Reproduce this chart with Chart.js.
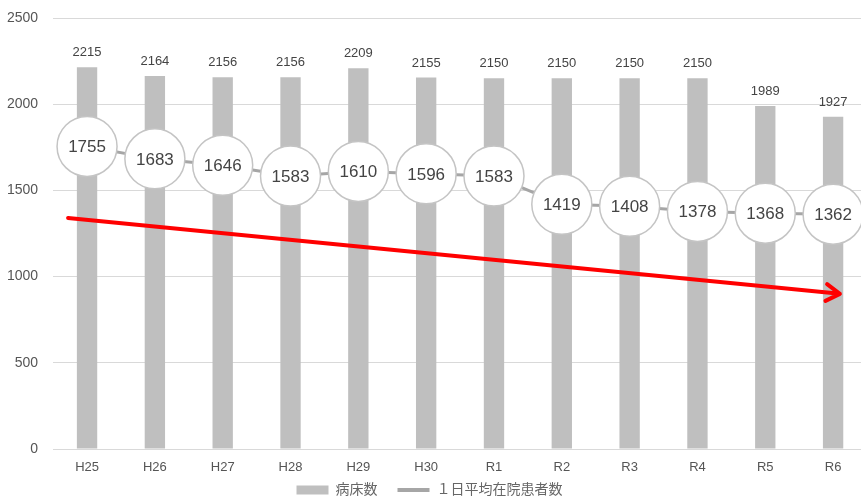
<!DOCTYPE html>
<html lang="ja">
<head>
  <meta charset="UTF-8">
  <title>病床数と1日平均在院患者数</title>
  <script src="https://cdn.jsdelivr.net/npm/chart.js"></script>
  <style>
    html, body { margin: 0; padding: 0; background: #fff; overflow: hidden; }
    .wrap { position: relative; width: 868px; height: 497px; }
  </style>
</head>
<body>
  <div class="wrap">
    <canvas id="chart"></canvas>
  </div>

  <script>
    // data
    const years = ['H25', 'H26', 'H27', 'H28', 'H29', 'H30', 'R1', 'R2', 'R3', 'R4', 'R5', 'R6'];
    const beds = [2215, 2164, 2156, 2156, 2209, 2155, 2150, 2150, 2150, 2150, 1989, 1927];
    const inpatients = [1755, 1683, 1646, 1583, 1610, 1596, 1583, 1419, 1408, 1378, 1368, 1362];
    const yTicks = [0, 500, 1000, 1500, 2000, 2500];
    // red trend arrow: [category index, value]
    const trendStart = [-0.28, 1340];
    const trendEnd = [11.1, 900];

    const font = '"Liberation Sans", Arial, "Noto Sans CJK JP", sans-serif';
    Chart.defaults.font.family = font;

    // value labels for bars and circles
    const labelPlugin = {
      id: 'labels',
      afterDatasetsDraw(chart) {
        const ctx = chart.ctx;
        ctx.save();
        ctx.textAlign = 'center';
        ctx.fillStyle = '#444';
        chart.getDatasetMeta(0).data.forEach((bar, i) => {
          ctx.font = '13px ' + font;
          ctx.textBaseline = 'bottom';
          ctx.fillText(beds[i], bar.x, bar.y - 8);
        });
        chart.getDatasetMeta(1).data.forEach((pt, i) => {
          ctx.font = '17px ' + font;
          ctx.textBaseline = 'middle';
          ctx.fillText(inpatients[i], pt.x, pt.y + 1);
        });
        ctx.restore();
      }
    };

    // red arrow drawn through the scales
    const arrowPlugin = {
      id: 'arrow',
      afterDatasetsDraw(chart) {
        const x = chart.scales.x, y = chart.scales.y;
        const x1 = x.getPixelForValue(trendStart[0]), y1 = y.getPixelForValue(trendStart[1]);
        const x2 = x.getPixelForValue(trendEnd[0]), y2 = y.getPixelForValue(trendEnd[1]);
        const ctx = chart.ctx;
        const a = Math.atan2(y2 - y1, x2 - x1);
        ctx.save();
        ctx.strokeStyle = '#ff0000';
        ctx.lineWidth = 4;
        ctx.lineCap = 'round';
        ctx.lineJoin = 'round';
        ctx.beginPath();
        ctx.moveTo(x1, y1);
        ctx.lineTo(x2, y2);
        ctx.moveTo(x2 - 16 * Math.cos(a - 0.55), y2 - 16 * Math.sin(a - 0.55));
        ctx.lineTo(x2, y2);
        ctx.lineTo(x2 - 16 * Math.cos(a + 0.55), y2 - 16 * Math.sin(a + 0.55));
        ctx.stroke();
        ctx.restore();
      }
    };

    // thin legend strip; the wide label padding is pulled back up after layout
    const legendFit = {
      id: 'legendFit',
      beforeLayout(chart) {
        const lg = chart.legend;
        if (!lg || lg._patched) return;
        const fit = lg.fit;
        lg.fit = function () { fit.call(this); this.height = 18; };
        lg._patched = true;
      },
      afterLayout(chart) {
        if (chart.legend) chart.legend.top -= 16;
      }
    };

    new Chart(document.getElementById('chart'), {
      data: {
        labels: years,
        datasets: [
          {
            type: 'bar',
            label: '病床数',
            data: beds,
            backgroundColor: '#bfbfbf',
            barPercentage: 0.3,
            categoryPercentage: 1,
            order: 2
          },
          {
            type: 'line',
            label: '１日平均在院患者数',
            data: inpatients,
            borderColor: '#a6a6a6',
            borderWidth: 3,
            pointRadius: 30,
            pointHoverRadius: 30,
            pointBackgroundColor: '#fff',
            pointBorderColor: '#c4c4c4',
            pointBorderWidth: 1.5,
            clip: false,
            order: 1
          }
        ]
      },
      options: {
        responsive: true,
        maintainAspectRatio: false,
        animation: false,
        layout: { autoPadding: false, padding: { top: 18, left: -8, right: 1, bottom: 0 } },
        scales: {
          x: {
            grid: { display: false, drawTicks: false },
            border: { display: false },
            ticks: { color: '#555', font: { size: 13 }, padding: 11 },
            afterFit(scale) { scale.height = 30; }
          },
          y: {
            min: 0,
            max: 2500,
            afterBuildTicks(axis) { axis.ticks = yTicks.map(v => ({ value: v })); },
            afterFit(scale) { scale.paddingTop = 0; scale.paddingBottom = 0; },
            grid: { color: '#d9d9d9', drawTicks: false },
            border: { display: false },
            ticks: { color: '#555', font: { size: 14 }, padding: 15, callback: v => String(v) }
          }
        },
        plugins: {
          tooltip: { enabled: false },
          legend: {
            position: 'bottom',
            labels: {
              color: '#666',
              font: { size: 14 },
              usePointStyle: true,
              pointStyleWidth: 32,
              boxHeight: 9,
              padding: 20,
              generateLabels(chart) {
                return chart.data.datasets.map((ds, i) => ({
                  text: ds.label,
                  fillStyle: i === 0 ? '#bfbfbf' : '#a6a6a6',
                  strokeStyle: i === 0 ? '#bfbfbf' : '#a6a6a6',
                  lineWidth: i === 0 ? 0 : 4,
                  pointStyle: i === 0 ? 'rect' : 'line',
                  fontColor: '#666',
                  datasetIndex: i
                }));
              }
            }
          }
        }
      },
      plugins: [labelPlugin, arrowPlugin, legendFit]
    });
  </script>
</body>
</html>
